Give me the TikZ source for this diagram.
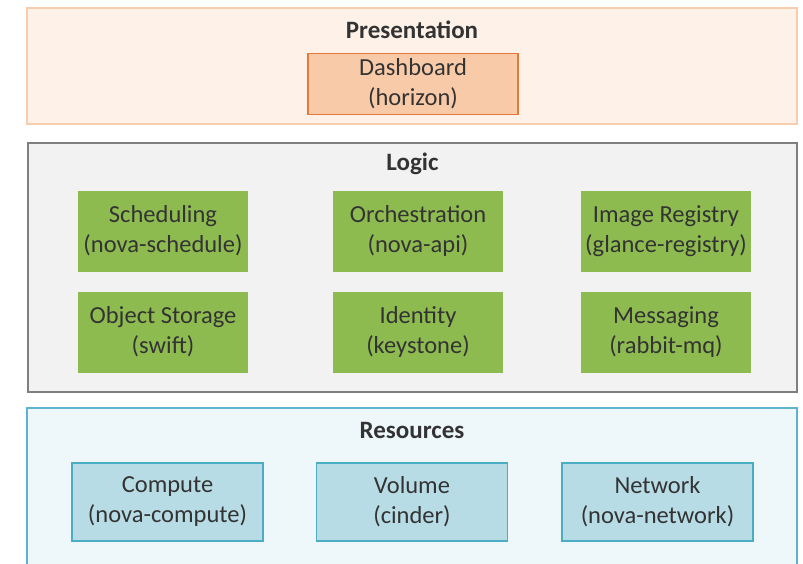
\documentclass[tikz,border=0pt]{standalone}
\usepackage{fontspec}
\setmainfont{Carlito}
\usetikzlibrary{positioning}
\definecolor{PresFill}{HTML}{FDF1E8}
\definecolor{PresLine}{HTML}{F7CDAE}
\definecolor{DashFill}{HTML}{F8CAA8}
\definecolor{DashLine}{HTML}{E27A3C}
\definecolor{LogicFill}{HTML}{F2F2F2}
\definecolor{LogicLine}{HTML}{7F7F7F}
\definecolor{SvcGreen}{HTML}{8DBB4F}
\definecolor{ResFill}{HTML}{EEF7FA}
\definecolor{ResLine}{HTML}{5DB4CC}
\definecolor{HwFill}{HTML}{B7DCE6}
\definecolor{HwLine}{HTML}{4BACC6}
\definecolor{TextGray}{HTML}{333333}
\tikzset{
  layer/.style={draw, line width=1.6pt, inner sep=0pt},
  title/.style={font=\fontsize{25}{29}\selectfont\bfseries, text=TextGray},
  comp/.style={align=center, inner sep=0pt, font=\fontsize{24.5}{30}\selectfont, text=TextGray},
  svc/.style={comp, fill=SvcGreen, minimum width=170pt, minimum height=81pt},
  hw/.style={comp, draw=HwLine, line width=1.6pt, fill=HwFill, minimum width=191pt, minimum height=78pt}
}
\begin{document}
\begin{tikzpicture}[x=1pt, y=-1pt]
        \useasboundingbox (0,0) rectangle (803,563);
        \clip (0,0) rectangle (803,563);
        % presentation layer
        \node[layer, draw=PresLine, fill=PresFill, minimum width=770pt, minimum height=116pt] (pres) at (412,66) {};
        \node[title] (presT) at (412,30) {Presentation};
        \node[comp, draw=DashLine, line width=1.6pt, fill=DashFill, minimum width=210pt, minimum height=61pt] (dash) at (413,84) {Dashboard\\(horizon)};
        % logic layer
        \node[layer, draw=LogicLine, fill=LogicFill, minimum width=769pt, minimum height=249pt] (logic) at (412.5,267.5) {};
        \node[title] (logicT) at (412.5,164) {Logic};
        \node[svc] (sched) at (163,231) {Scheduling\\(nova-schedule)};
        \node[svc] (orch) at (418,231) {Orchestration\\(nova-api)};
        \node[svc] (imgreg) at (666,231) {Image Registry\\(glance-registry)};
        \node[svc] (objstore) at (163,332) {Object Storage\\(swift)};
        \node[svc] (ident) at (418,332) {Identity\\(keystone)};
        \node[svc] (msg) at (666,332) {Messaging\\(rabbit-mq)};
        % resources layer
        \node[layer, draw=ResLine, fill=ResFill, minimum width=770pt, minimum height=180pt] (res) at (412,498) {};
        \node[title] (resT) at (412,430) {Resources};
        \node[hw] (compute) at (167.5,502) {Compute\\(nova-compute)};
        \node[hw] (volume) at (412,502) {Volume\\(cinder)};
        \node[hw] (network) at (657.5,502) {Network\\(nova-network)};
\end{tikzpicture}
\end{document}
